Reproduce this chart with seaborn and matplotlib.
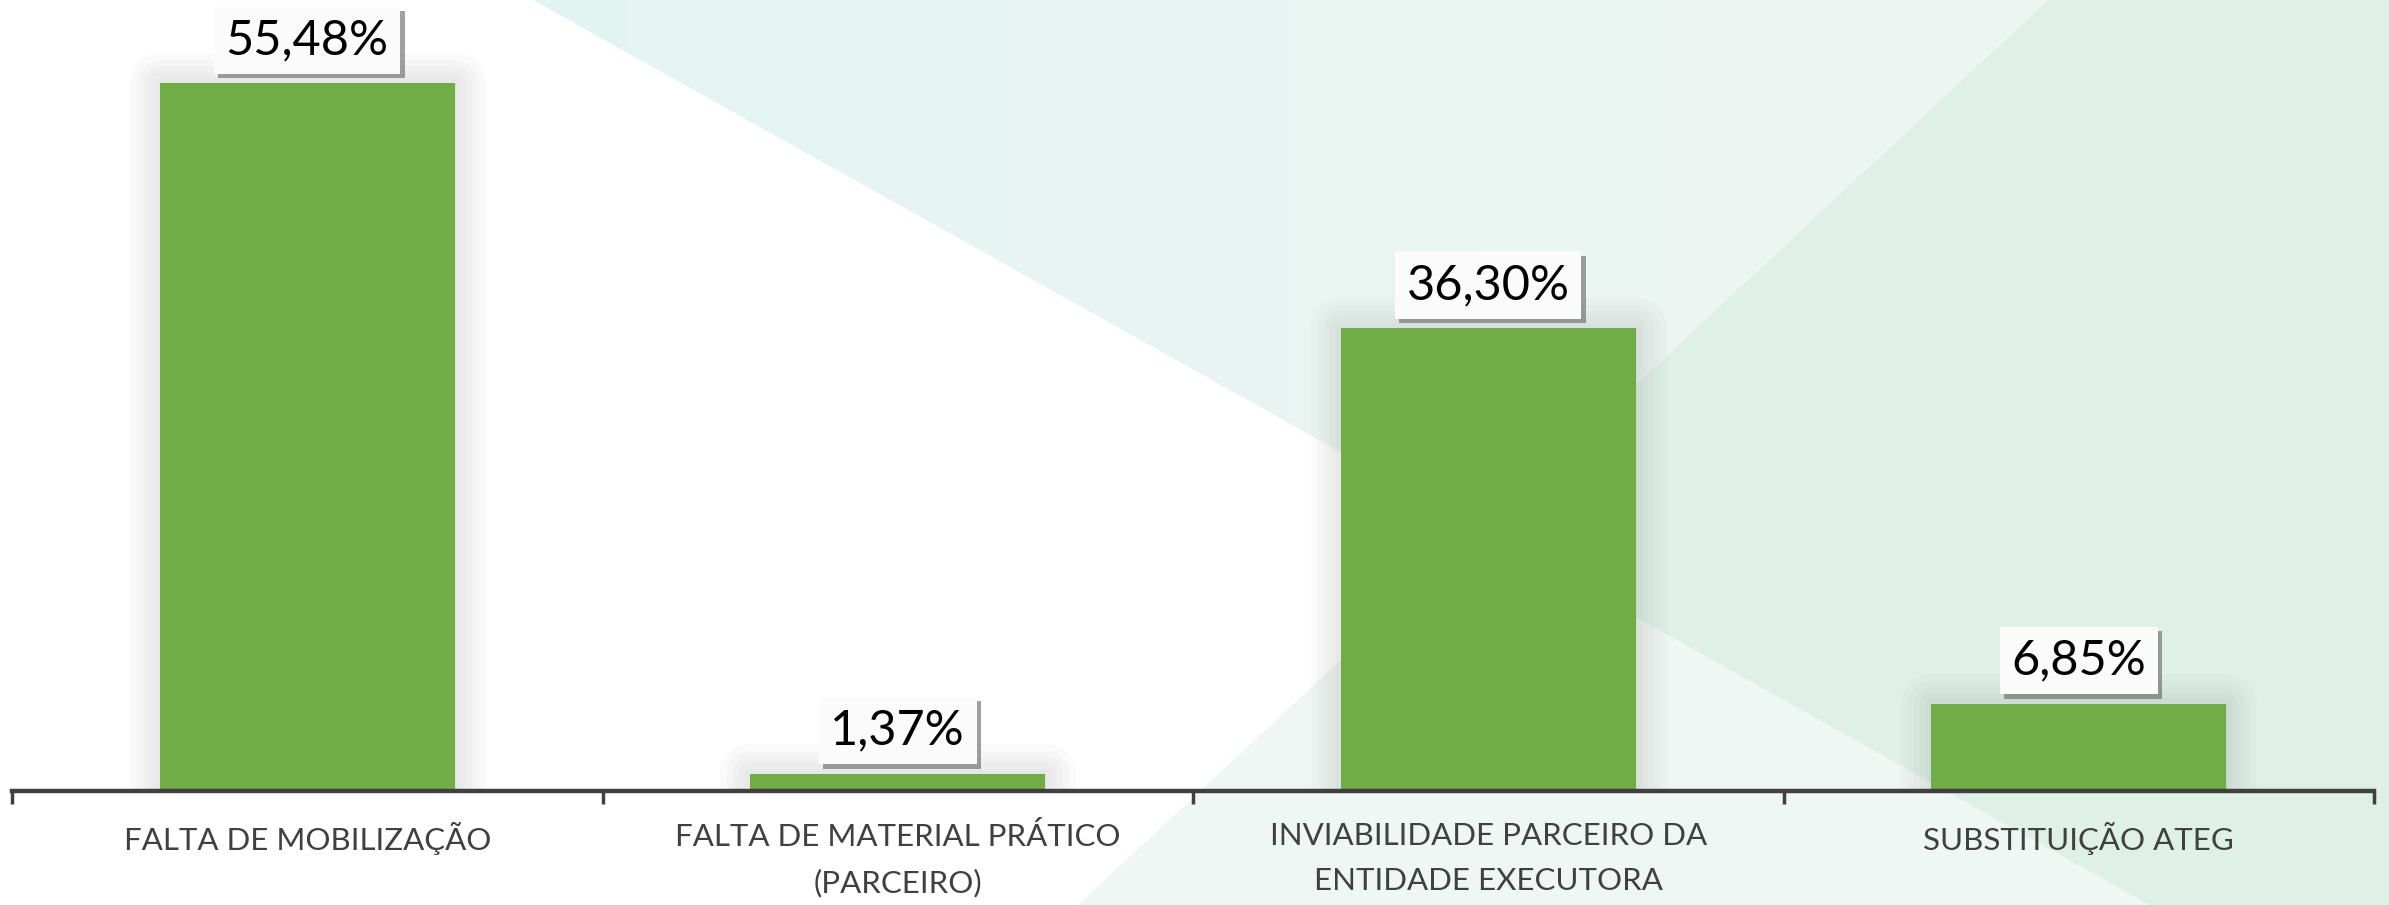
import numpy as np
import pandas as pd
import seaborn as sns
import matplotlib.pyplot as plt
from matplotlib import patheffects as pe
from matplotlib.patches import Polygon
from matplotlib.colors import LinearSegmentedColormap

categorias = ["FALTA DE MOBILIZAÇÃO",
              "FALTA DE MATERIAL PRÁTICO\n(PARCEIRO)",
              "INVIABILIDADE PARCEIRO DA\nENTIDADE EXECUTORA",
              "SUBSTITUIÇÃO ATEG"]
valores = [55.48, 1.37, 36.30, 6.85]
rotulos = ["55,48%", "1,37%", "36,30%", "6,85%"]

df = pd.DataFrame({"motivo": categorias, "pct": valores})

sns.set_style("white")
plt.rcParams['font.family'] = ['Lato', 'DejaVu Sans']

W, H = 2389, 905
fig = plt.figure(figsize=(W / 100, H / 100), dpi=100)
fig.patch.set_facecolor("white")

# decorative background (pixel coordinates)
bg = fig.add_axes([0, 0, 1, 1], zorder=-10)
bg.set_xlim(0, W)
bg.set_ylim(H, 0)
bg.axis("off")
P = (1480, 530)
teal = Polygon([(533, 0), (2048, 0), P], closed=True, facecolor="none", edgecolor="none")
bg.add_patch(teal)
grad = LinearSegmentedColormap.from_list("g", ["#e2f4f2", "#eaf5f2", "#eef6f2"])
img = bg.imshow(np.linspace(0, 1, 256)[None, :], cmap=grad, extent=(533, 2048, 530, 0),
                aspect="auto", zorder=0)
img.set_clip_path(teal)
bg.add_patch(Polygon([(2048, 0), (W, 0), (W, H), (2149, H), P], closed=True,
                     facecolor="#dff0e7", edgecolor="none", zorder=1))
bg.add_patch(Polygon([P, (2149, H), (1078, H)], closed=True,
                     facecolor="#eef7f4", edgecolor="none", zorder=1))
bg.set_xlim(0, W)
bg.set_ylim(H, 0)

ax = fig.add_axes([12 / W, (H - 791) / H, (2374 - 12) / W, 791 / H])
ax.patch.set_alpha(0)

sns.barplot(data=df, x="motivo", y="pct", color="#70ad47", saturation=1,
            width=0.5, ax=ax, zorder=3)

glow = [pe.Stroke(linewidth=w, foreground="#7f7f7f", alpha=0.035, joinstyle="round")
        for w in (44, 34, 25, 16, 8)]
for bar in ax.patches:
    bar.set_edgecolor("none")
    bar.set_path_effects(glow + [pe.Normal()])

ax.set_xlim(-0.5, 3.5)
ax.set_ylim(0, 62.0)
ax.set_xlabel("")
ax.set_ylabel("")
ax.set_yticks([])

for s in ["top", "right", "left"]:
    ax.spines[s].set_visible(False)
ax.spines["bottom"].set_color("#404040")
ax.spines["bottom"].set_linewidth(3.2)
ax.spines["bottom"].set_zorder(5)

ax.set_xticks(range(len(categorias)))
ax.set_xticklabels(categorias, fontsize=22.5, color="#404040", linespacing=1.75)
ax.tick_params(axis="x", which="major", bottom=True, length=0, pad=22)
ax.set_xticks(np.arange(-0.5, len(categorias)), minor=True)
ax.tick_params(axis="x", which="minor", bottom=True, length=9, width=2.5,
               color="#404040", direction="out")

for i, (v, r) in enumerate(zip(valores, rotulos)):
    t = ax.annotate(r, (i, v), xytext=(0, 15), textcoords="offset points",
                    ha="center", va="bottom", fontsize=35, color="black", zorder=6,
                    bbox=dict(boxstyle="square,pad=0.24", facecolor="#fbfbfb", edgecolor="none"))
    t.get_bbox_patch().set_path_effects([
        pe.SimplePatchShadow(offset=(3, -3), shadow_rgbFace="#555555", alpha=0.55),
        pe.Normal()])

fig.savefig("out.png", dpi=100)
